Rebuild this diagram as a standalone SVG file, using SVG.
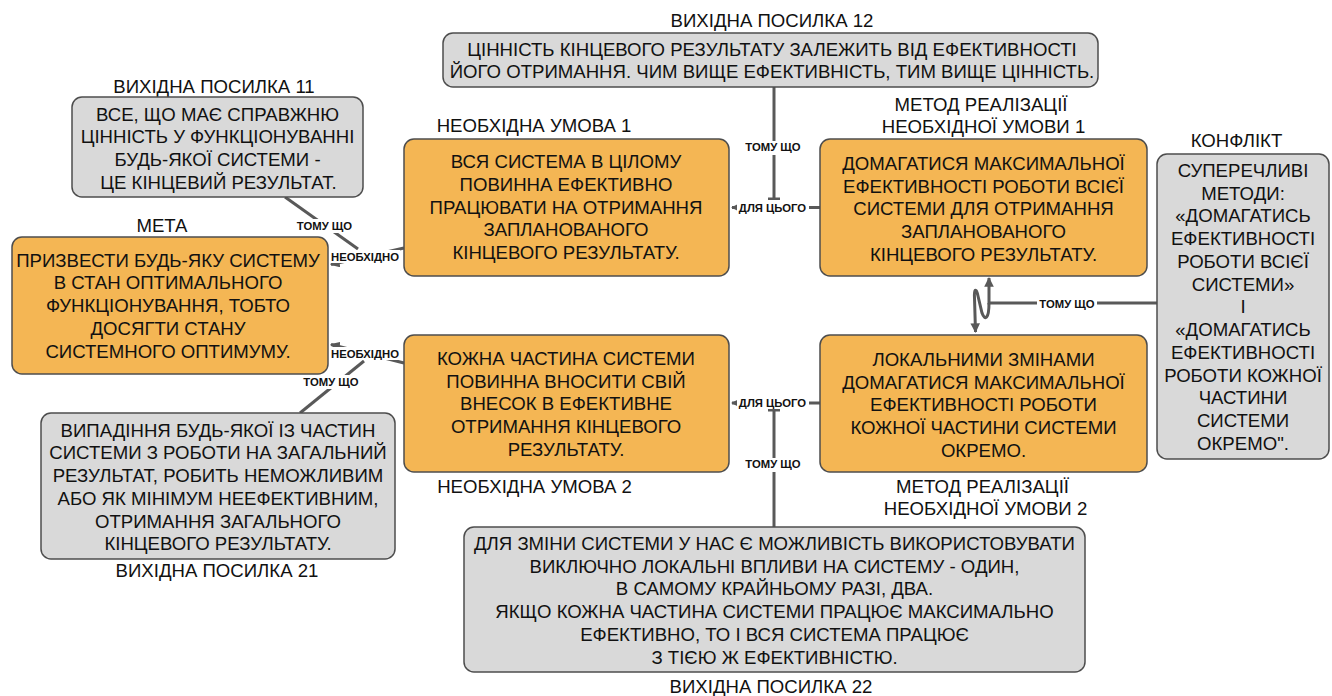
<svg xmlns="http://www.w3.org/2000/svg" width="1332" height="696" viewBox="0 0 1332 696">
<defs>
<style>
.box{stroke:#4d4d4d;stroke-width:1.5}
.or{fill:#f4b654}
.gr{fill:#d9d9d9}
.t{font-family:"Liberation Sans",Arial,sans-serif;font-size:18.6px;fill:#111;text-anchor:middle}
.cap{font-family:"Liberation Sans",Arial,sans-serif;font-size:18.6px;fill:#111;text-anchor:middle}
.ln{stroke:#595959;stroke-width:3;fill:none}
.lb{font-family:"Liberation Sans",Arial,sans-serif;font-size:11.3px;font-weight:bold;fill:#111;text-anchor:middle}
.bg{fill:#fff}
</style>
<marker id="ar" viewBox="0 0 10 10" refX="9" refY="5" markerWidth="3.2" markerHeight="3.2" orient="auto" markerUnits="strokeWidth">
<path d="M0,0 L10,5 L0,10 z" fill="#595959"/>
</marker>
</defs>

<g id="connectors">
<line class="ln" x1="285" y1="197" x2="358" y2="249"/>
<line class="ln" x1="404" y1="248" x2="331" y2="264.5" marker-end="url(#ar)"/>
<line class="ln" x1="404" y1="363" x2="331" y2="344.5" marker-end="url(#ar)"/>
<line class="ln" x1="300" y1="413" x2="364" y2="361"/>
<line class="ln" x1="820" y1="207.5" x2="732" y2="207.5" marker-end="url(#ar)"/>
<line class="ln" x1="774" y1="87" x2="774" y2="199"/>
<line class="ln" x1="768" y1="199" x2="780" y2="199" stroke-width="2"/>
<line class="ln" x1="820" y1="403" x2="732" y2="403" marker-end="url(#ar)"/>
<line class="ln" x1="774" y1="527" x2="774" y2="410"/>
<line class="ln" x1="768" y1="410" x2="780" y2="410" stroke-width="2"/>
<path class="ln" d="M1157 303 L989 303 L989 278" marker-end="url(#ar)"/>
<path class="ln" d="M989 303 C989 319 985 321 982 313 L978 296 C976 287 974 289 974.5 298 L975.5 332" marker-end="url(#ar)"/>
<rect class="bg" x="295" y="219" width="60" height="14"/>
<text class="lb" x="324.5" y="230">ТОМУ ЩО</text>
<rect class="bg" x="331" y="250" width="69" height="13"/>
<text class="lb" x="365" y="260.5">НЕОБХІДНО</text>
<rect class="bg" x="331" y="347" width="69" height="13"/>
<text class="lb" x="365" y="357.5">НЕОБХІДНО</text>
<rect class="bg" x="302" y="375" width="60" height="14"/>
<text class="lb" x="331" y="386">ТОМУ ЩО</text>
<rect class="bg" x="744" y="141" width="60" height="14"/>
<text class="lb" x="773" y="151">ТОМУ ЩО</text>
<rect class="bg" x="737" y="200" width="72" height="13"/>
<text class="lb" x="772.5" y="211.5">ДЛЯ ЦЬОГО</text>
<rect class="bg" x="737" y="396" width="72" height="13"/>
<text class="lb" x="772.5" y="407">ДЛЯ ЦЬОГО</text>
<rect class="bg" x="744" y="458" width="60" height="14"/>
<text class="lb" x="773" y="468">ТОМУ ЩО</text>
<rect class="bg" x="1037" y="297" width="60" height="13"/>
<text class="lb" x="1067" y="308">ТОМУ ЩО</text>
</g>

<g id="vp12">
<text class="cap" x="772" y="27">ВИХІДНА ПОСИЛКА 12</text>
<rect class="box gr" x="443" y="33" width="655" height="54" rx="10"/>
<text class="t" x="772" y="56">ЦІННІСТЬ КІНЦЕВОГО РЕЗУЛЬТАТУ ЗАЛЕЖИТЬ ВІД ЕФЕКТИВНОСТІ</text>
<text class="t" x="772" y="78">ЙОГО ОТРИМАННЯ. ЧИМ ВИЩЕ ЕФЕКТИВНІСТЬ, ТИМ ВИЩЕ ЦІННІСТЬ.</text>
</g>

<g id="vp11">
<text class="cap" x="214" y="92.5">ВИХІДНА ПОСИЛКА 11</text>
<rect class="box gr" x="72" y="97" width="291" height="100" rx="10"/>
<text class="t" x="217.5" y="120.5">ВСЕ, ЩО МАЄ СПРАВЖНЮ</text>
<text class="t" x="217.5" y="143.2">ЦІННІСТЬ У ФУНКЦІОНУВАННІ</text>
<text class="t" x="217.5" y="165.9">БУДЬ-ЯКОЇ СИСТЕМИ -</text>
<text class="t" x="218.5" y="188.6">ЦЕ КІНЦЕВИЙ РЕЗУЛЬТАТ.</text>
</g>

<g id="meta">
<text class="cap" x="162" y="231.5">МЕТА</text>
<rect class="box or" x="12" y="237" width="316" height="137" rx="10"/>
<text class="t" x="168" y="266.7">ПРИЗВЕСТИ БУДЬ-ЯКУ СИСТЕМУ</text>
<text class="t" x="168" y="289.4">В СТАН ОПТИМАЛЬНОГО</text>
<text class="t" x="168" y="312.1">ФУНКЦІОНУВАННЯ, ТОБТО</text>
<text class="t" x="168" y="334.8">ДОСЯГТИ СТАНУ</text>
<text class="t" x="168" y="357.5">СИСТЕМНОГО ОПТИМУМУ.</text>
</g>

<g id="vp21">
<rect class="box gr" x="41" y="413" width="354" height="146" rx="10"/>
<text class="t" x="218" y="436.7">ВИПАДІННЯ БУДЬ-ЯКОЇ ІЗ ЧАСТИН</text>
<text class="t" x="218" y="459.4">СИСТЕМИ З РОБОТИ НА ЗАГАЛЬНИЙ</text>
<text class="t" x="218" y="482.1">РЕЗУЛЬТАТ, РОБИТЬ НЕМОЖЛИВИМ</text>
<text class="t" x="218" y="504.8">АБО ЯК МІНІМУМ НЕЕФЕКТИВНИМ,</text>
<text class="t" x="218" y="527.5">ОТРИМАННЯ ЗАГАЛЬНОГО</text>
<text class="t" x="218" y="550.2">КІНЦЕВОГО РЕЗУЛЬТАТУ.</text>
<text class="cap" x="217" y="576.7">ВИХІДНА ПОСИЛКА 21</text>
</g>

<g id="nu1">
<text class="cap" x="534" y="131.7">НЕОБХІДНА УМОВА 1</text>
<rect class="box or" x="404" y="139" width="325" height="137" rx="10"/>
<text class="t" x="566" y="168.3">ВСЯ СИСТЕМА В ЦІЛОМУ</text>
<text class="t" x="566" y="191">ПОВИННА ЕФЕКТИВНО</text>
<text class="t" x="566" y="213.7">ПРАЦЮВАТИ НА ОТРИМАННЯ</text>
<text class="t" x="566" y="236.4">ЗАПЛАНОВАНОГО</text>
<text class="t" x="566" y="259.1">КІНЦЕВОГО РЕЗУЛЬТАТУ.</text>
</g>

<g id="nu2">
<rect class="box or" x="404" y="335" width="325" height="137" rx="10"/>
<text class="t" x="566" y="365">КОЖНА ЧАСТИНА СИСТЕМИ</text>
<text class="t" x="566" y="387.7">ПОВИННА ВНОСИТИ СВІЙ</text>
<text class="t" x="566" y="410.4">ВНЕСОК В ЕФЕКТИВНЕ</text>
<text class="t" x="566" y="433.1">ОТРИМАННЯ КІНЦЕВОГО</text>
<text class="t" x="566" y="455.8">РЕЗУЛЬТАТУ.</text>
<text class="cap" x="534.5" y="493">НЕОБХІДНА УМОВА 2</text>
</g>

<g id="m1">
<text class="cap" x="981" y="110.5">МЕТОД РЕАЛІЗАЦІЇ</text>
<text class="cap" x="983.5" y="132.5">НЕОБХІДНОЇ УМОВИ 1</text>
<rect class="box or" x="820" y="139" width="327" height="137" rx="10"/>
<text class="t" x="983.5" y="170">ДОМАГАТИСЯ МАКСИМАЛЬНОЇ</text>
<text class="t" x="983.5" y="192.7">ЕФЕКТИВНОСТІ РОБОТИ ВСІЄЇ</text>
<text class="t" x="983.5" y="215.4">СИСТЕМИ ДЛЯ ОТРИМАННЯ</text>
<text class="t" x="983.5" y="238.1">ЗАПЛАНОВАНОГО</text>
<text class="t" x="983.5" y="260.8">КІНЦЕВОГО РЕЗУЛЬТАТУ.</text>
</g>

<g id="m2">
<rect class="box or" x="820" y="335" width="327" height="137" rx="10"/>
<text class="t" x="983.5" y="366">ЛОКАЛЬНИМИ ЗМІНАМИ</text>
<text class="t" x="983.5" y="388.7">ДОМАГАТИСЯ МАКСИМАЛЬНОЇ</text>
<text class="t" x="983.5" y="411.4">ЕФЕКТИВНОСТІ РОБОТИ</text>
<text class="t" x="983.5" y="434.1">КОЖНОЇ ЧАСТИНИ СИСТЕМИ</text>
<text class="t" x="983.5" y="456.8">ОКРЕМО.</text>
<text class="cap" x="982.5" y="493">МЕТОД РЕАЛІЗАЦІЇ</text>
<text class="cap" x="985.5" y="515">НЕОБХІДНОЇ УМОВИ 2</text>
</g>

<g id="conflict">
<text class="cap" x="1236.5" y="146.7">КОНФЛІКТ</text>
<rect class="box gr" x="1157" y="154" width="172" height="305" rx="10"/>
<text class="t" x="1243" y="176.7">СУПЕРЕЧЛИВІ</text>
<text class="t" x="1243" y="199.5">МЕТОДИ:</text>
<text class="t" x="1243" y="222.2">«ДОМАГАТИСЬ</text>
<text class="t" x="1243" y="245">ЕФЕКТИВНОСТІ</text>
<text class="t" x="1243" y="267.8">РОБОТИ ВСІЄЇ</text>
<text class="t" x="1243" y="290.5">СИСТЕМИ»</text>
<text class="t" x="1243" y="313.3">І</text>
<text class="t" x="1243" y="336">«ДОМАГАТИСЬ</text>
<text class="t" x="1243" y="358.8">ЕФЕКТИВНОСТІ</text>
<text class="t" x="1243" y="381.6">РОБОТИ КОЖНОЇ</text>
<text class="t" x="1243" y="404.3">ЧАСТИНИ</text>
<text class="t" x="1243" y="427.1">СИСТЕМИ</text>
<text class="t" x="1243" y="449.8">ОКРЕМО".</text>
</g>

<g id="vp22">
<rect class="box gr" x="464" y="527" width="621" height="145" rx="10"/>
<text class="t" x="774.5" y="550">ДЛЯ ЗМІНИ СИСТЕМИ У НАС Є МОЖЛИВІСТЬ ВИКОРИСТОВУВАТИ</text>
<text class="t" x="774.5" y="572.7">ВИКЛЮЧНО ЛОКАЛЬНІ ВПЛИВИ НА СИСТЕМУ - ОДИН,</text>
<text class="t" x="774.5" y="595.4">В САМОМУ КРАЙНЬОМУ РАЗІ, ДВА.</text>
<text class="t" x="774.5" y="618.1">ЯКЩО КОЖНА ЧАСТИНА СИСТЕМИ ПРАЦЮЄ МАКСИМАЛЬНО</text>
<text class="t" x="774.5" y="640.8">ЕФЕКТИВНО, ТО І ВСЯ СИСТЕМА ПРАЦЮЄ</text>
<text class="t" x="774.5" y="663.5">З ТІЄЮ Ж ЕФЕКТИВНІСТЮ.</text>
<text class="cap" x="771" y="693">ВИХІДНА ПОСИЛКА 22</text>
</g>
</svg>
